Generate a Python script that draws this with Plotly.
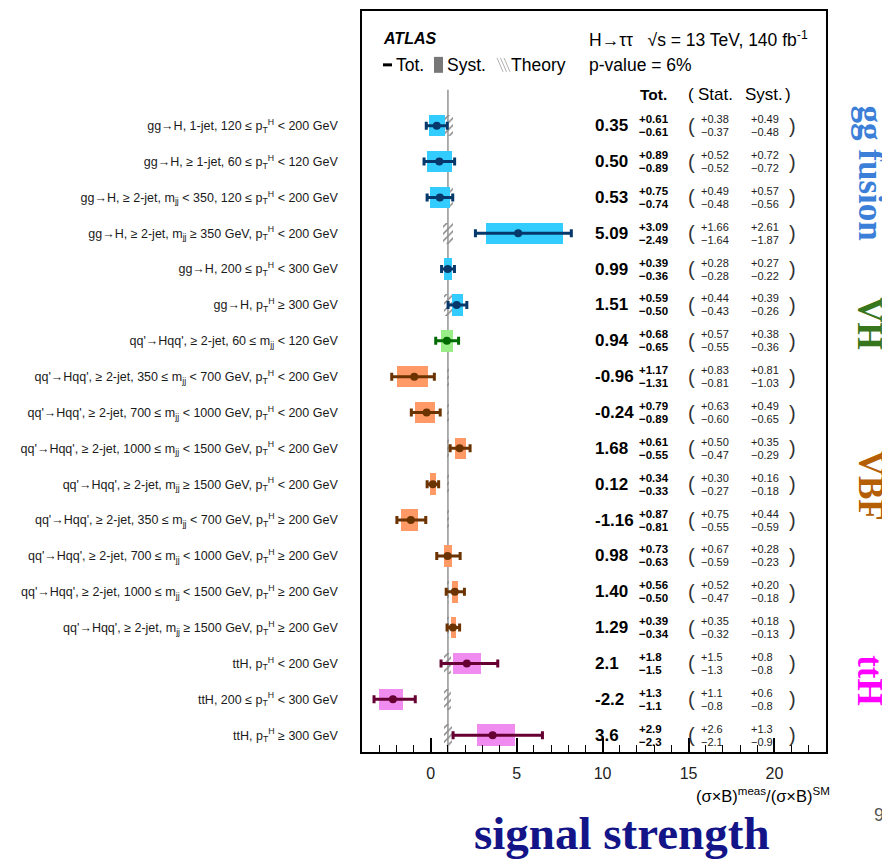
import plotly.graph_objects as go

# ---------------- data ----------------
categories = [
    "gg→H, 1-jet, 120 ≤ p<sub>T</sub><sup>H</sup> < 200 GeV",
    "gg→H, ≥ 1-jet, 60 ≤ p<sub>T</sub><sup>H</sup> < 120 GeV",
    "gg→H, ≥ 2-jet, m<sub>jj</sub> < 350, 120 ≤ p<sub>T</sub><sup>H</sup> < 200 GeV",
    "gg→H, ≥ 2-jet, m<sub>jj</sub> ≥ 350 GeV, p<sub>T</sub><sup>H</sup> < 200 GeV",
    "gg→H, 200 ≤ p<sub>T</sub><sup>H</sup> < 300 GeV",
    "gg→H, p<sub>T</sub><sup>H</sup> ≥ 300 GeV",
    "qq'→Hqq', ≥ 2-jet, 60 ≤ m<sub>jj</sub> < 120 GeV",
    "qq'→Hqq', ≥ 2-jet, 350 ≤ m<sub>jj</sub> < 700 GeV, p<sub>T</sub><sup>H</sup> < 200 GeV",
    "qq'→Hqq', ≥ 2-jet, 700 ≤ m<sub>jj</sub> < 1000 GeV, p<sub>T</sub><sup>H</sup> < 200 GeV",
    "qq'→Hqq', ≥ 2-jet, 1000 ≤ m<sub>jj</sub> < 1500 GeV, p<sub>T</sub><sup>H</sup> < 200 GeV",
    "qq'→Hqq', ≥ 2-jet, m<sub>jj</sub> ≥ 1500 GeV, p<sub>T</sub><sup>H</sup> < 200 GeV",
    "qq'→Hqq', ≥ 2-jet, 350 ≤ m<sub>jj</sub> < 700 GeV, p<sub>T</sub><sup>H</sup> ≥ 200 GeV",
    "qq'→Hqq', ≥ 2-jet, 700 ≤ m<sub>jj</sub> < 1000 GeV, p<sub>T</sub><sup>H</sup> ≥ 200 GeV",
    "qq'→Hqq', ≥ 2-jet, 1000 ≤ m<sub>jj</sub> < 1500 GeV, p<sub>T</sub><sup>H</sup> ≥ 200 GeV",
    "qq'→Hqq', ≥ 2-jet, m<sub>jj</sub> ≥ 1500 GeV, p<sub>T</sub><sup>H</sup> ≥ 200 GeV",
    "ttH, p<sub>T</sub><sup>H</sup> < 200 GeV",
    "ttH, 200 ≤ p<sub>T</sub><sup>H</sup> < 300 GeV",
    "ttH, p<sub>T</sub><sup>H</sup> ≥ 300 GeV",
]
groups = ["ggF"] * 6 + ["VH"] + ["VBF"] * 8 + ["ttH"] * 3
mu = [0.35, 0.50, 0.53, 5.09, 0.99, 1.51, 0.94, -0.96, -0.24, 1.68, 0.12, -1.16,
      0.98, 1.40, 1.29, 2.1, -2.2, 3.6]
tot_up = [0.61, 0.89, 0.75, 3.09, 0.39, 0.59, 0.68, 1.17, 0.79, 0.61, 0.34, 0.87,
          0.73, 0.56, 0.39, 1.8, 1.3, 2.9]
tot_dn = [0.61, 0.89, 0.74, 2.49, 0.36, 0.50, 0.65, 1.31, 0.89, 0.55, 0.33, 0.81,
          0.63, 0.50, 0.34, 1.5, 1.1, 2.3]
stat_up = [0.38, 0.52, 0.49, 1.66, 0.28, 0.44, 0.57, 0.83, 0.63, 0.50, 0.30, 0.75,
           0.67, 0.52, 0.35, 1.5, 1.1, 2.6]
stat_dn = [0.37, 0.52, 0.48, 1.64, 0.28, 0.43, 0.55, 0.81, 0.60, 0.47, 0.27, 0.55,
           0.59, 0.47, 0.32, 1.3, 0.8, 2.1]
syst_up = [0.49, 0.72, 0.57, 2.61, 0.27, 0.39, 0.38, 0.81, 0.49, 0.35, 0.16, 0.44,
           0.28, 0.20, 0.18, 0.8, 0.6, 1.3]
syst_dn = [0.48, 0.72, 0.56, 1.87, 0.22, 0.26, 0.36, 1.03, 0.65, 0.29, 0.18, 0.59,
           0.23, 0.18, 0.13, 0.8, 0.8, 0.9]
theory_unc = [0.28, 0.25, 0.28, 0.27, 0.23, 0.25, 0.05, 0.08, 0.08, 0.08, 0.08, 0.08,
              0.08, 0.08, 0.08, 0.2, 0.2, 0.22]
decimals = [2] * 15 + [1] * 3
sm_value = 1.0
x_ticks = [0, 5, 10, 15, 20]

box_colors = {"ggF": "#33ccff", "VH": "#99ee88", "VBF": "#ff9966", "ttH": "#f08cf0"}
bar_colors = {"ggF": "#06386b", "VH": "#006b00", "VBF": "#6b3300", "ttH": "#660033"}

side_labels = [("gg fusion", "#3c7fd8", 171), ("VH", "#38761d", 322),
               ("VBF", "#b45f06", 485), ("ttH", "#ff00ff", 680)]

# ---------------- geometry helpers (reference pixel coords) ----------------
OFF = 8                      # page body margin
W, H = 890 - OFF, 860 - OFF
L, R, T, B = 362, 826, 9, 752


def px(x):
    return (x - L) / (R - L)


def py(y):
    return (B - y) / (B - T)


FONT = "Liberation Sans, Arial, sans-serif"
SERIF = "Liberation Serif, Times New Roman, serif"

fig = go.Figure()

# theory hatch around SM
fig.add_trace(go.Bar(
    y=categories, x=[2 * t for t in theory_unc], base=[sm_value - t for t in theory_unc],
    orientation="h", width=0.6,
    marker=dict(color="#8a8a8a", line=dict(width=0),
                pattern=dict(shape="/", fillmode="replace", size=5, solidity=0.3,
                             bgcolor="rgba(0,0,0,0)", fgcolor="#8a8a8a")),
    showlegend=False, hoverinfo="skip"))

for g in ["ggF", "VH", "VBF", "ttH"]:
    idx = [i for i, gg in enumerate(groups) if gg == g]
    cats = [categories[i] for i in idx]
    fig.add_trace(go.Bar(
        y=cats, x=[syst_up[i] + syst_dn[i] for i in idx],
        base=[mu[i] - syst_dn[i] for i in idx],
        orientation="h", width=0.6,
        marker=dict(color=box_colors[g], line=dict(width=0)),
        showlegend=False, hoverinfo="skip"))

for g in ["ggF", "VH", "VBF", "ttH"]:
    idx = [i for i, gg in enumerate(groups) if gg == g]
    fig.add_trace(go.Scatter(
        y=[categories[i] for i in idx], x=[mu[i] for i in idx], mode="markers",
        marker=dict(color=bar_colors[g], size=8),
        error_x=dict(type="data", symmetric=False,
                     array=[tot_up[i] for i in idx], arrayminus=[tot_dn[i] for i in idx],
                     color=bar_colors[g], thickness=3, width=4),
        showlegend=False, hoverinfo="skip"))

shapes = []
# SM line
shapes.append(dict(type="line", xref="x", yref="paper", x0=sm_value, x1=sm_value,
                   y0=0, y1=py(88), line=dict(color="#9a9a9a", width=1.6), layer="below"))
# legend symbols
shapes.append(dict(type="line", xref="paper", yref="paper", x0=px(383), x1=px(392),
                   y0=py(63), y1=py(63), line=dict(color="black", width=3)))
shapes.append(dict(type="rect", xref="paper", yref="paper", x0=px(434), x1=px(443),
                   y0=py(71), y1=py(55), line=dict(width=0), fillcolor="#777777"))
for k in range(3):
    x0 = 497 + k * 3.5
    shapes.append(dict(type="line", xref="paper", yref="paper", x0=px(x0), x1=px(x0 + 6),
                       y0=py(56), y1=py(70), line=dict(color="#b0b0b0", width=1)))

ann = []


def add(text, x, y, size, xanchor="left", yref="paper", color="#111111", **kw):
    fam = kw.pop("family", FONT)
    ann.append(dict(text=text, x=x, y=y, xref="paper", yref=yref, showarrow=False,
                    xanchor=xanchor, yanchor="middle",
                    font=dict(size=size, family=fam, color=color), **kw))


# header
add("<b><i>ATLAS</i></b>", px(381), py(37), 16, color="black")
add("H→ττ   √s = 13 TeV, 140 fb<sup>-1</sup>", px(587), py(37), 17.5, color="black")
add("p-value = 6%", px(587), py(63), 17.5, color="black")
add("Tot.", px(394), py(63), 17.5, color="black")
add("Syst.", px(445), py(63), 17.5, color="black")
add("Theory", px(509), py(63), 17.5, color="black")
add("<b>Tot.</b>", px(638), py(93), 15.5, color="black")
add("(", px(686), py(93), 17, color="black")
add("Stat.", px(696), py(93), 17, color="black")
add("Syst.", px(743), py(93), 17, color="black")
add(")", px(783), py(93), 17, color="black")

for i, c in enumerate(categories):
    d = decimals[i]
    f = "{:.%df}" % d
    add("<b>" + f.format(mu[i]) + "</b>", px(593), c, 17, yref="y", color="black")
    add("<b>+" + f.format(tot_up[i]) + "</b>", px(637), c, 11.5, yref="y", yshift=6.5, color="black")
    add("<b>−" + f.format(tot_dn[i]) + "</b>", px(637), c, 11.5, yref="y", yshift=-6.5, color="black")
    add("(", px(686), c, 20, yref="y", color="#333333")
    add("+" + f.format(stat_up[i]), px(699), c, 11, yref="y", yshift=6.5, color="#222222")
    add("−" + f.format(stat_dn[i]), px(699), c, 11, yref="y", yshift=-6.5, color="#222222")
    add("+" + f.format(syst_up[i]), px(749), c, 11, yref="y", yshift=6.5, color="#222222")
    add("−" + f.format(syst_dn[i]), px(749), c, 11, yref="y", yshift=-6.5, color="#222222")
    add(")", px(787), c, 20, yref="y", color="#333333")

# axis title
add("(σ×B)<sup>meas</sup>/(σ×B)<sup>SM</sup>", px(832), py(795), 16.5, xanchor="right", color="black")

# side labels
for text, col, yc in side_labels:
    add("<b>" + text + "</b>", px(870), py(yc), 35, xanchor="center", color=col,
        family=SERIF, textangle=90)

add("<b>signal strength</b>", px(622), py(833), 47, xanchor="center", color="#141489", family=SERIF)
add("9", px(886), py(815), 18, xanchor="right", color="#555555")

fig.update_layout(
    width=W, height=H,
    margin=dict(l=L - OFF, r=W - (R - OFF), t=T - OFF + 0.0001, b=H - (B - OFF)),
    paper_bgcolor="white", plot_bgcolor="white",
    barmode="overlay", bargap=0,
    showlegend=False,
    shapes=shapes, annotations=ann,
    xaxis=dict(range=[-4, 23], tickvals=x_ticks, ticks="inside", ticklen=14,
               tickcolor="black", tickwidth=1.5,
               minor=dict(ticks="inside", ticklen=7, dtick=1, tickcolor="black", tickwidth=1.2),
               showgrid=False, zeroline=False, showline=True, mirror=True,
               linecolor="black", linewidth=1.5, ticklabelstandoff=6,
               tickfont=dict(size=16, family=FONT, color="#222222")),
    yaxis=dict(type="category", categoryorder="array", categoryarray=categories,
               range=[17.47, -3.2], showgrid=False, zeroline=False, ticks="",
               showline=True, mirror=True, linecolor="black", linewidth=1.5,
               ticklabelstandoff=20,
               tickfont=dict(size=12.5, family=FONT, color="#1a1a1a")),
)

fig.write_html("out.html")
